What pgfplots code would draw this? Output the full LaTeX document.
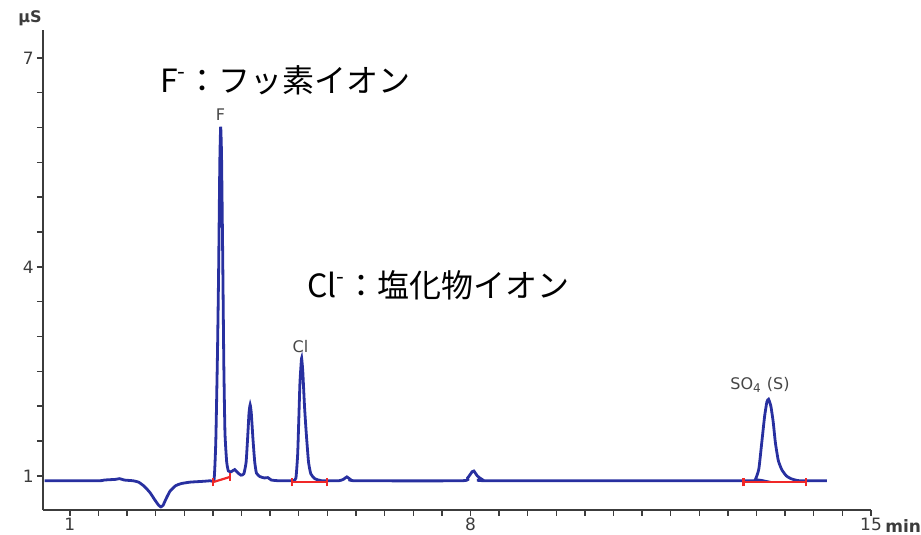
\documentclass[border=0pt]{standalone}
\usepackage{fontspec}
\setmainfont{DejaVu Sans}
\newfontfamily\jp{Noto Sans CJK JP}
\usepackage{pgfplots}
\pgfplotsset{compat=1.18}
\definecolor{curve}{RGB}{40,48,160}
\definecolor{integ}{RGB}{240,40,40}
\definecolor{axisgray}{RGB}{60,60,60}
\definecolor{lblgray}{RGB}{70,70,70}

\begin{document}
\begin{tikzpicture}
\path[use as bounding box] (-21.5pt,-12.5pt) rectangle (439pt,255pt);
\begin{axis}[
  at={(0pt,0pt)}, anchor=south west,
  scale only axis, width=414pt, height=240pt,
  xmin=0.53, xmax=15, ymin=0.51, ymax=7.4,
  axis x line*=bottom, axis y line*=left,
  axis line style={axisgray, line width=0.8pt, -},
  xtick={1,8,15}, minor xtick={1.5,2,...,14.5},
  ytick={1,4,7}, minor ytick={1.5,2,...,6.5},
  tick align=outside, major tick length=3pt, minor tick length=3pt,
  tick style={axisgray, line width=0.7pt},
  ticklabel style={font=\fontsize{8.5}{9}\selectfont, text=axisgray},
  xticklabel style={inner sep=0.8pt},
  yticklabel style={inner sep=1.5pt},
  /pgf/number format/assume math mode=true,
  clip=false,
]
\addplot[curve, line width=1.4pt, smooth, tension=0.3] coordinates {
(0.56,0.93) (1.50,0.93) (1.60,0.94) (1.70,0.945) (1.80,0.95) (1.87,0.96) (1.95,0.94) (2.10,0.93)
(2.20,0.91) (2.30,0.85) (2.40,0.76) (2.48,0.66) (2.55,0.58) (2.59,0.555) (2.63,0.58) (2.68,0.67)
(2.75,0.78) (2.85,0.86) (2.95,0.89) (3.10,0.91) (3.30,0.92) (3.45,0.93)
(3.52,0.95) (3.55,1.5) (3.58,2.8) (3.60,4.0) (3.62,5.5) (3.635,6.01) (3.65,5.6) (3.67,4.2)
(3.69,2.6) (3.71,1.62) (3.74,1.2) (3.77,1.07) (3.82,1.06) (3.88,1.09) (3.94,1.04) (3.99,1.01)
(4.04,1.03) (4.08,1.2) (4.11,1.6) (4.13,1.9) (4.15,2.02) (4.17,1.9) (4.20,1.52) (4.23,1.2)
(4.26,1.04) (4.32,0.99) (4.40,0.97) (4.46,0.975) (4.52,0.94) (4.65,0.93)
(4.90,0.93) (4.95,0.97) (4.98,1.3) (5.00,1.8) (5.02,2.33) (5.04,2.6) (5.05,2.69) (5.07,2.5)
(5.10,2.0) (5.13,1.62) (5.17,1.2) (5.21,1.03) (5.28,0.96) (5.40,0.93)
(5.70,0.93) (5.78,0.95) (5.84,0.985) (5.90,0.95) (6.00,0.93)
(7.85,0.93) (7.95,0.97) (8.03,1.06) (8.06,1.07) (8.12,1.0) (8.20,0.95) (8.35,0.93)
(12.90,0.93) (12.98,0.95) (13.04,1.1) (13.09,1.47) (13.14,1.85) (13.18,2.06) (13.21,2.10)
(13.25,2.0) (13.29,1.78) (13.33,1.47) (13.38,1.22) (13.44,1.09) (13.52,1.0) (13.60,0.96)
(13.75,0.93) (14.23,0.93)
};
% integration baselines
\addplot[integ, line width=1.1pt] coordinates {(3.50,0.91) (3.80,0.985)};
\addplot[integ, line width=1.1pt] coordinates {(3.50,0.85) (3.50,0.97)};
\addplot[integ, line width=1.1pt] coordinates {(3.80,0.925) (3.80,1.045)};
\addplot[integ, line width=1.1pt] coordinates {(4.88,0.91) (5.49,0.91)};
\addplot[integ, line width=1.1pt] coordinates {(4.88,0.85) (4.88,0.97)};
\addplot[integ, line width=1.1pt] coordinates {(5.49,0.85) (5.49,0.97)};
\addplot[integ, line width=1.1pt] coordinates {(12.77,0.91) (13.87,0.91)};
\addplot[integ, line width=1.1pt] coordinates {(12.77,0.85) (12.77,0.97)};
\addplot[integ, line width=1.1pt] coordinates {(13.87,0.85) (13.87,0.97)};

\node[text=lblgray, font=\fontsize{8}{9}\selectfont] at (axis cs:3.63,6.18) {F};
\node[text=lblgray, font=\fontsize{8}{9}\selectfont] at (axis cs:5.03,2.85) {Cl};
\node[text=lblgray, font=\fontsize{8}{9}\selectfont] at (axis cs:13.06,2.31) {SO\textsubscript{4} (S)};

\node[anchor=west, font=\jp\fontsize{16}{18}\selectfont, inner sep=0pt] at (axis cs:2.57,6.68) {F\textsuperscript{-}：フッ素イオン};
\node[anchor=west, font=\jp\fontsize{16}{18}\selectfont, inner sep=0pt] at (axis cs:5.14,3.74) {Cl\textsuperscript{-}：塩化物イオン};

\node[font=\bfseries\fontsize{8}{9}\selectfont, text=axisgray] at (rel axis cs:0,1) [xshift=-6.5pt, yshift=6pt] {µS};
\node[anchor=west, font=\bfseries\fontsize{8.5}{9}\selectfont, text=axisgray, inner sep=0pt] at (rel axis cs:1,0) [xshift=7pt, yshift=-8pt] {min};
\end{axis}
\end{tikzpicture}
\end{document}
